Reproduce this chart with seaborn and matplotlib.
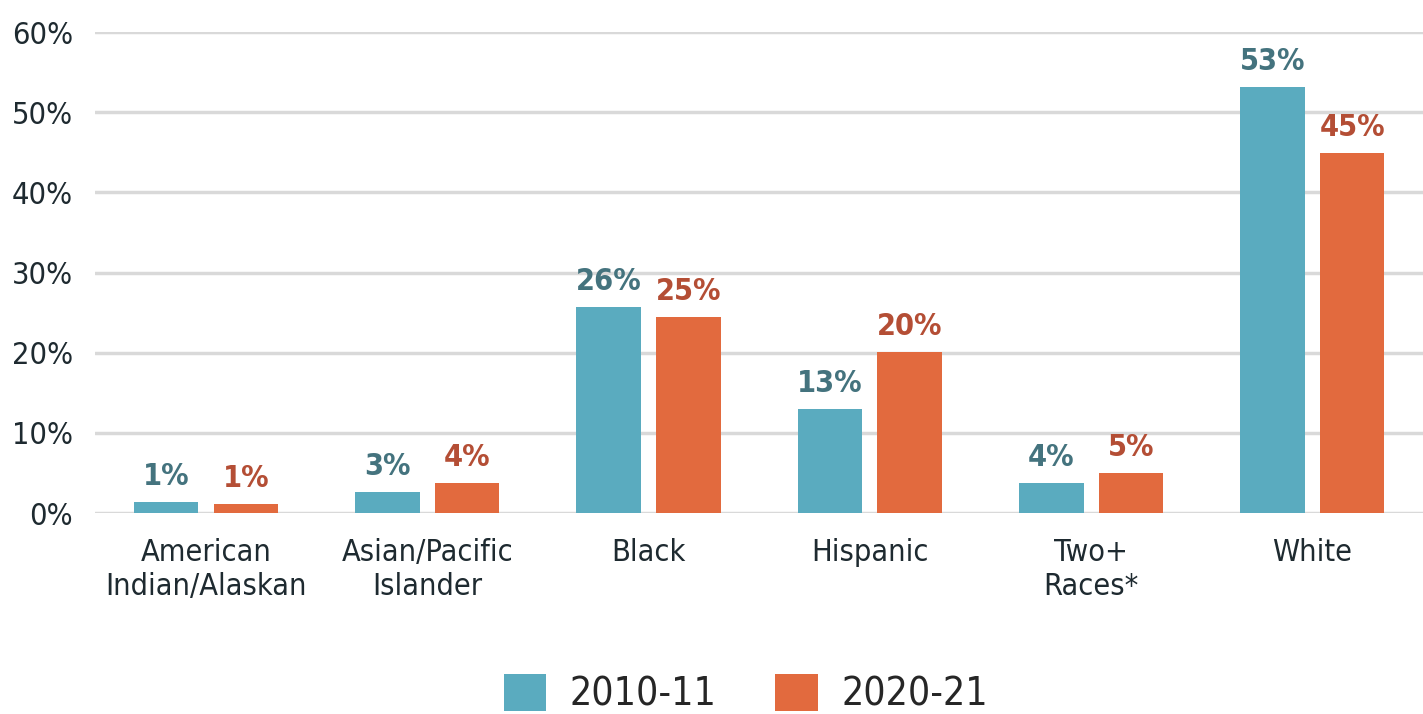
import pandas as pd
import matplotlib.pyplot as plt
import seaborn as sns

groups = ['American\nIndian/Alaskan', 'Asian/Pacific\nIslander', 'Black', 'Hispanic', 'Two+\nRaces*', 'White']
share_2010 = [1.4, 2.6, 25.7, 13.0, 3.7, 53.2]
share_2020 = [1.1, 3.7, 24.4, 20.1, 5.0, 44.9]
labels_2010 = ['1%', '3%', '26%', '13%', '4%', '53%']
labels_2020 = ['1%', '4%', '25%', '20%', '5%', '45%']
years = ['2010-11', '2020-21']

df = pd.DataFrame({
    'group': groups * 2,
    'share': share_2010 + share_2020,
    'year': [years[0]] * len(groups) + [years[1]] * len(groups),
})

sns.set_style('white')
plt.rcParams['font.family'] = ['DejaVu Sans']
plt.rcParams['font.stretch'] = 'condensed'

bar_colors = ['#5aabbf', '#e26a3e']
text_colors = ['#44737e', '#b44e35']

fig = plt.figure(figsize=(14.23, 7.14), dpi=100)
ax = fig.add_axes([0.067, 0.2815, 0.933, 0.6735])

sns.barplot(data=df, x='group', y='share', hue='year', hue_order=years,
            palette=bar_colors, width=0.72, gap=0.19, saturation=1,
            linewidth=0, legend=True, ax=ax)

for cont, labs, col in zip(ax.containers, [labels_2010, labels_2020], text_colors):
    ax.bar_label(cont, labels=labs, padding=8, color=col, fontsize=22,
                 fontweight='bold', clip_on=False)

ax.set_ylim(0, 60)
ax.set_xlim(-0.5, 5.5)
ax.set_yticks(range(0, 61, 10))
ax.set_yticklabels([f'{v}%' for v in range(0, 61, 10)])
ax.yaxis.grid(True, color='#d9d9d9', linewidth=2.5)
ax.set_axisbelow(True)
for s in ax.spines.values():
    s.set_visible(False)
ax.tick_params(axis='y', length=0, pad=16, labelsize=22, labelcolor='#1e2a30')
ax.tick_params(axis='x', length=0, pad=18, labelsize=22, labelcolor='#1e2a30')
ax.set_xlabel('')
ax.set_ylabel('')

handles, lbls = ax.get_legend_handles_labels()
ax.get_legend().remove()
fig.legend(handles, lbls, loc='center', bbox_to_anchor=(0.524, 0.028), ncol=2,
           frameon=False, fontsize=28, handlelength=1.1, handleheight=1.1,
           columnspacing=1.5, handletextpad=0.6)

fig.savefig('out.png', dpi=100)
